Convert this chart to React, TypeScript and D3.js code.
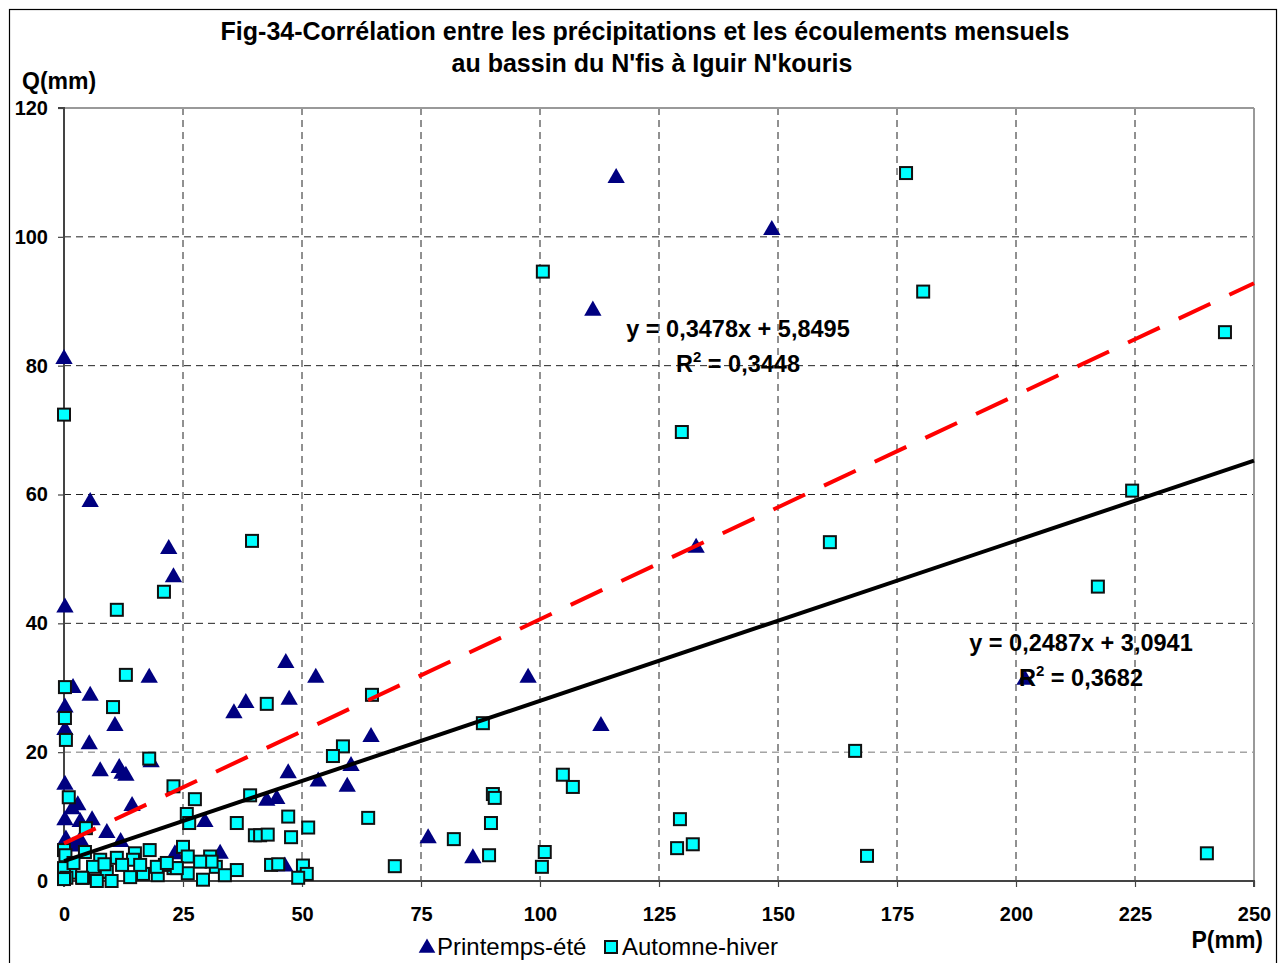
import React, { useEffect, useRef } from 'react';
import * as d3 from 'd3';

// Printemps-été (P mm, Q mm)
const printempsP = [0, 116, 148.7, 111.1, 132.8, 201.9, 97.5, 112.8, 5.5, 22, 23, 0.2, 17.9, 1.9, 5.5, 0.2, 10.7, 0.2, 5.3, 18.3, 7.6, 11.6, 12.2, 13, 0.2, 2.9, 1.7, 14.3, 0.2, 3.4, 5.9, 9, 0.4, 3.4, 11.9, 1.9, 46.6, 52.9, 38.2, 35.7, 47.3, 64.5, 60.3, 47.1, 53.4, 59.5, 42.6, 44.7, 29.6, 46.4, 32.8, 23.3, 76.5, 85.9];
const printempsQ = [81.2, 109.3, 101.2, 88.7, 51.9, 31.4, 31.7, 24.2, 59, 51.7, 47.3, 42.6, 31.7, 30.1, 28.9, 27.1, 24.2, 23.6, 21.4, 18.6, 17.2, 17.7, 16.8, 16.5, 15.1, 11.9, 11.3, 11.8, 9.6, 9.3, 9.6, 7.6, 6.6, 6.5, 6.2, 5.5, 34, 31.7, 27.8, 26.2, 28.3, 22.5, 18, 16.9, 15.6, 14.8, 12.6, 12.9, 9.3, 2.4, 4.4, 4.3, 6.8, 3.7];

// Automne-hiver (P mm, Q mm)
const automneP = [0, 100.6, 129.8, 176.9, 180.5, 243.9, 224.4, 160.9, 217.2, 166.2, 168.7, 240.1, 39.5, 21, 11.1, 13, 0.2, 10.3, 0.2, 0.4, 17.9, 1, 23, 27.5, 25.8, 26.3, 4.6, 25, 42.6, 64.7, 58.6, 56.5, 39.1, 36.3, 47.1, 63.9, 51.3, 40.1, 41.2, 42.8, 47.7, 69.5, 43.5, 45, 50.2, 51, 49.2, 30.7, 31.9, 36.3, 33.8, 29.2, 31, 26, 26, 23, 28.6, 88, 104.8, 106.9, 90.1, 90.5, 89.7, 81.9, 89.3, 101, 100.4, 129.4, 128.8, 132.1, 0, 0.3, 4.4, 7.6, 11.1, 14.9, 18, 14.5, 12.2, 9, 1.3, 4, 6.1, 13.9, 16.6, 19.7, 21.2, 0, 23.7, 3.8, 6.9, 10, 19.5, 21.6, 0.5, 2, 8.5, 16, 0];
const automneQ = [72.4, 94.6, 69.7, 109.9, 91.5, 85.2, 60.6, 52.6, 45.7, 20.2, 3.9, 4.3, 52.8, 44.9, 42.1, 32, 30.1, 27, 25.3, 21.9, 19, 13, 14.7, 12.7, 10.4, 9, 8.2, 5.3, 27.5, 28.9, 20.9, 19.4, 13.3, 9, 10, 9.8, 8.3, 7.1, 7.1, 7.2, 6.8, 2.3, 2.5, 2.6, 2.4, 1.1, 0.5, 3.8, 2.2, 1.7, 0.9, 0.2, 3, 3.8, 1.2, 2, 3, 24.5, 16.5, 14.6, 13.5, 12.9, 9, 6.5, 4, 4.5, 2.2, 9.6, 5.1, 5.7, 4.8, 4, 4.5, 3.3, 3.6, 4.3, 4.8, 3.3, 2.5, 1.4, 1.3, 0.5, 2.2, 0.6, 1.1, 0.9, 2.5, 2, 2, 0.5, 0, 0, 2.2, 2.8, 0.5, 2.8, 2.6, 2.5, 0.3];

// droites de tendance : [pente, ordonnée à l'origine]
const trendRed = [0.3478, 5.8495];
const trendBlack = [0.2487, 3.0941];

const xTicks = [0, 25, 50, 75, 100, 125, 150, 175, 200, 225, 250];
const yTicks = [0, 20, 40, 60, 80, 100, 120];

const FONT = '"Liberation Sans", Arial, sans-serif';

export default function App() {
  const ref = useRef<SVGSVGElement>(null);

  useEffect(() => {
    const svg = d3.select(ref.current);
    svg.selectAll('*').remove();

    const left = 64, right = 1254, top = 108, bottom = 881;
    const x = d3.scaleLinear().domain([0, 250]).range([left, right]);
    const y = d3.scaleLinear().domain([0, 120]).range([bottom, top]);

    // cadre du graphique
    svg.append('rect')
      .attr('x', 9.5).attr('y', 9.5).attr('width', 1267).attr('height', 970)
      .attr('fill', '#fff').attr('stroke', '#000').attr('stroke-width', 1.2);

    // grille
    const grid = svg.append('g');
    grid.selectAll('.gy').data(yTicks.filter(d => d > 0 && d < 120)).enter()
      .append('line')
      .attr('x1', left).attr('x2', right)
      .attr('y1', d => y(d)).attr('y2', d => y(d))
      .attr('stroke', d => d === 20 ? '#777' : '#222').attr('stroke-width', 1)
      .attr('stroke-dasharray', '7,5');
    grid.selectAll('.gx').data(xTicks.filter(d => d > 0 && d < 250)).enter()
      .append('line')
      .attr('y1', top).attr('y2', bottom)
      .attr('x1', d => x(d)).attr('x2', d => x(d))
      .attr('stroke', '#222').attr('stroke-width', 1)
      .attr('stroke-dasharray', '7,5');

    // bordure zone de tracé
    svg.append('line').attr('x1', left).attr('x2', right).attr('y1', top).attr('y2', top)
      .attr('stroke', '#999').attr('stroke-width', 2);
    svg.append('line').attr('x1', right).attr('x2', right).attr('y1', top).attr('y2', bottom)
      .attr('stroke', '#999').attr('stroke-width', 2);

    // axes
    const xAxis = d3.axisBottom(x).tickValues(xTicks).tickSize(6).tickPadding(20).tickFormat(d3.format('d'));
    const yAxis = d3.axisLeft(y).tickValues(yTicks).tickSize(6).tickPadding(10).tickFormat(d3.format('d'));
    const gx = svg.append('g').attr('transform', `translate(0,${bottom})`).call(xAxis);
    const gy = svg.append('g').attr('transform', `translate(${left},0)`).call(yAxis);
    [gx, gy].forEach(g => {
      g.select('.domain').attr('stroke', '#444').attr('stroke-width', 2);
      g.selectAll('.tick line').attr('stroke', '#444').attr('stroke-width', 1.2);
      g.selectAll('text').attr('font-family', FONT).attr('font-size', 20)
        .attr('font-weight', 'bold').attr('fill', '#000');
    });
    gx.select('.domain').attr('d', `M${left},6V0H${right}V6`);
    gy.select('.domain').attr('d', `M-6,${top}H0V${bottom}H-6`);

    // marqueurs Printemps-été
    const tri = d3.symbol().type(d3.symbolTriangle).size(130);
    svg.append('g').selectAll('path').data(printempsP.map((p, i) => [p, printempsQ[i]])).enter()
      .append('path')
      .attr('d', tri)
      .attr('transform', d => `translate(${x(d[0])},${y(d[1]) + 1})`)
      .attr('fill', '#000080');

    // marqueurs Automne-hiver
    svg.append('g').selectAll('rect').data(automneP.map((p, i) => [p, automneQ[i]])).enter()
      .append('rect')
      .attr('x', d => x(d[0]) - 6).attr('y', d => y(d[1]) - 6)
      .attr('width', 12).attr('height', 12)
      .attr('fill', '#00ffff').attr('stroke', '#111').attr('stroke-width', 2);

    // droites de tendance
    const line = d3.line<number>().x(d => x(d)).y(d => y(d));
    svg.append('path')
      .attr('d', line.y(d => y(trendRed[0] * d + trendRed[1]))([0, 250]))
      .attr('fill', 'none').attr('stroke', '#ff0000').attr('stroke-width', 4)
      .attr('stroke-dasharray', '35,21');
    svg.append('path')
      .attr('d', line.y(d => y(trendBlack[0] * d + trendBlack[1]))([0, 250]))
      .attr('fill', 'none').attr('stroke', '#000').attr('stroke-width', 4);

    // équations
    const eq = (cx: number, cy: number, l1: string, r2: string) => {
      svg.append('text').attr('x', cx).attr('y', cy).attr('text-anchor', 'middle')
        .attr('font-family', FONT).attr('font-size', 23.5).attr('font-weight', 'bold')
        .text(l1);
      const t = svg.append('text').attr('x', cx).attr('y', cy + 35).attr('text-anchor', 'middle')
        .attr('font-family', FONT).attr('font-size', 23.5).attr('font-weight', 'bold');
      t.append('tspan').text('R');
      t.append('tspan').attr('dy', -10).attr('font-size', 15).text('2');
      t.append('tspan').attr('dy', 10).text(' = ' + r2);
    };
    eq(738, 337, 'y = 0,3478x + 5,8495', '0,3448');
    eq(1081, 651, 'y = 0,2487x + 3,0941', '0,3682');

    // titres
    svg.append('text').attr('x', 645).attr('y', 40).attr('text-anchor', 'middle')
      .attr('font-family', FONT).attr('font-size', 25).attr('font-weight', 'bold')
      .text('Fig-34-Corrélation entre les précipitations et les écoulements mensuels');
    svg.append('text').attr('x', 652).attr('y', 72).attr('text-anchor', 'middle')
      .attr('font-family', FONT).attr('font-size', 25).attr('font-weight', 'bold')
      .text("au bassin du N'fis à Iguir N'kouris");
    svg.append('text').attr('x', 22).attr('y', 89)
      .attr('font-family', FONT).attr('font-size', 23).attr('font-weight', 'bold')
      .text('Q(mm)');
    svg.append('text').attr('x', 1263).attr('y', 948).attr('text-anchor', 'end')
      .attr('font-family', FONT).attr('font-size', 23).attr('font-weight', 'bold')
      .text('P(mm)');

    // légende
    const lg = svg.append('g').attr('transform', 'translate(418,955)');
    lg.append('path').attr('d', d3.symbol().type(d3.symbolTriangle).size(120))
      .attr('transform', 'translate(9,-7)').attr('fill', '#000080');
    lg.append('text').attr('x', 19).attr('y', 0).attr('font-family', FONT).attr('font-size', 24)
      .text('Printemps-été');
    lg.append('rect').attr('x', 187).attr('y', -14).attr('width', 12).attr('height', 12)
      .attr('fill', '#00ffff').attr('stroke', '#111').attr('stroke-width', 2);
    lg.append('text').attr('x', 204).attr('y', 0).attr('font-family', FONT).attr('font-size', 24)
      .text('Automne-hiver');
  }, []);

  return (
    <svg ref={ref} width={1284} height={963}
      style={{ position: 'absolute', left: 0, top: 0, background: '#fff' }} />
  );
}
